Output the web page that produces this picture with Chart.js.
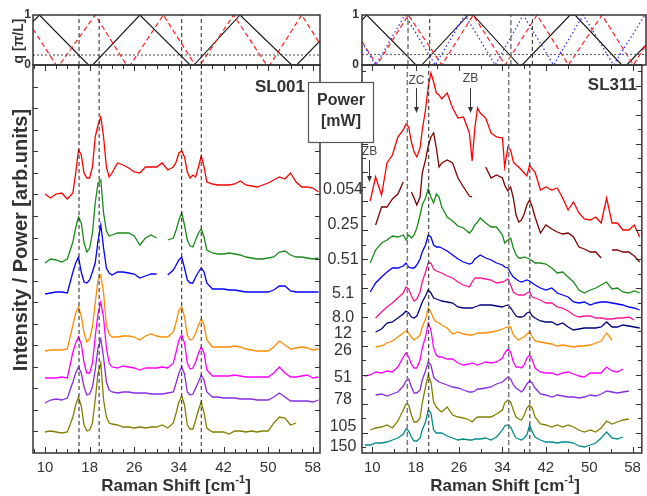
<!DOCTYPE html>
<html><head><meta charset="utf-8">
<script src="https://cdn.jsdelivr.net/npm/chart.js"></script>
<style>
html,body{margin:0;padding:0;background:#fff;}
#wrap{position:relative;width:647px;height:496px;overflow:hidden;background:#fff;}
canvas{position:absolute;left:0;top:0;}
</style></head><body>
<div id="wrap">
<canvas id="cLT" width="647" height="496"></canvas>
<canvas id="cLM" width="647" height="496"></canvas>
<canvas id="cRT" width="647" height="496"></canvas>
<canvas id="cRM" width="647" height="496"></canvas>
</div>
<script>
// ---------------- DATA ----------------
// Raman shift grid (cm^-1), left panel SL001
const X_L = [8,9,10,11,12,13,14,15,15.5,16,16.5,17,17.5,18,18.5,19,19.5,20,20.5,21,21.5,22,23,24,25,26,27,28,29,30,31,32,33,33.5,34,34.5,35,35.5,36,36.5,37,37.5,38,38.5,39,40,41,42,43,44,45,46,47,48,49,50,51,52,53,54,55,56,57,58,59];
const L_RED = [null,null,259,255,259,260,254,260,280,303,298,280,275,275,286,316,328,336,316,286,276,280,290,288,285,281,280,286,286,286,290,283,286,291,300,302,296,281,275,278,276,286,297,286,271,269,268,268,268,269,272,268,267,266,268,270,273,276,274,280,271,266,266,265,261];
const L_GREEN = [null,null,190,194,193,191,194,211,225,236,230,210,201,205,220,250,270,273,240,222,217,218,220,220,220,217,208,215,218,215,null,213,215,223,233,240,228,213,207,206,213,220,224,216,203,200,199,199,200,199,198,196,195,194,194,195,196,201,202,198,196,196,195,194,195];
const L_BLUE = [null,null,159,160,161,161,160,181,190,196,181,171,170,173,181,190,212,228,205,185,180,178,181,181,180,179,175,177,179,179,null,178,183,188,193,196,185,173,170,170,176,181,185,181,170,164,164,164,163,163,162,161,161,161,161,161,163,167,167,162,161,161,161,161,161];
const L_ORANGE = [null,null,102,103,103,103,104,128,140,146,137,120,111,114,126,150,173,178,160,128,119,116,116,117,117,116,113,117,119,117,116,116,121,131,143,146,136,118,113,114,120,128,134,128,113,106,106,106,106,107,106,104,103,102,102,102,106,112,108,104,105,106,105,103,104];
const L_MAGENTA = [null,null,75,75,75,76,75,101,110,116,109,90,80,80,90,116,140,151,135,105,90,86,85,87,86,85,83,85,85,85,86,85,90,101,113,118,110,90,84,85,91,100,106,100,83,77,77,77,77,78,77,76,76,76,76,76,80,86,80,76,76,77,78,75,76];
const L_PURPLE = [null,null,50,53,54,53,55,71,80,86,80,66,58,59,66,83,105,114,95,71,63,61,60,61,61,60,60,60,59,59,59,60,61,70,80,86,79,61,58,59,65,71,78,73,61,56,56,55,55,55,54,54,54,53,53,53,56,60,56,52,52,52,52,51,53];
const L_OLIVE = [null,null,21,22,21,20,21,36,48,56,47,28,22,23,30,53,80,90,53,36,30,29,28,26,26,25,26,25,26,26,28,25,30,40,51,57,48,28,24,24,33,43,51,40,25,21,21,21,19,22,22,21,22,21,22,22,30,36,35,28,30,null,null,null,null];

// Raman shift grid (cm^-1), right panel SL311
const X_R = [8.6,9.6,10.6,11.7,12.7,13.7,14.7,15.7,16.2,16.7,17.2,17.7,18.2,18.8,19.2,19.8,20.3,20.8,21.3,21.8,22.3,22.8,23.8,24.8,25.8,26.8,27.9,28.4,28.9,29.4,29.9,30.9,31.9,32.9,34.0,34.4,35.0,35.5,36.0,36.5,37.0,37.5,38.0,38.5,39.0,39.5,40.0,41.0,42.0,43.1,44.1,45.1,46.1,47.1,48.1,49.1,50.2,51.2,52.2,53.2,54.2,55.2,56.2,57.3,58.3,59.3];
const R_P0054 = [null,252,276,258,290,298,316,323,329,326,311,301,296,305,323,343,366,380,371,360,358,354,360,345,335,336,320,292,325,345,340,335,320,316,315,286,306,303,291,288,286,283,280,277,288,284,281,263,266,263,265,255,243,251,240,234,233,236,230,255,230,230,223,223,228,216];
const R_P025 = [null,null,228,246,246,254,259,271,null,null,261,255,248,256,280,293,307,316,320,305,286,290,293,290,275,266,257,256,null,null,null,286,275,278,275,268,262,266,255,238,231,233,239,248,253,246,236,220,228,224,221,219,220,216,206,204,201,201,195,null,203,203,201,201,197,191];
const R_P051 = [null,190,203,210,213,217,216,218,213,218,215,218,225,238,248,255,264,256,250,259,256,246,236,232,227,225,220,223,228,231,235,230,226,226,218,210,213,215,205,198,195,195,196,195,194,192,190,190,189,185,180,181,176,171,163,160,163,165,168,171,164,165,161,160,162,160];
const R_P51 = [null,161,170,176,181,185,185,187,190,186,185,185,188,194,201,208,218,216,208,206,206,205,202,198,194,191,189,190,194,196,198,195,193,190,188,186,185,180,176,174,172,171,172,173,172,170,168,165,163,165,160,158,156,151,150,151,148,150,151,151,150,149,148,146,145,143];
const R_P80 = [null,null,135,141,146,150,155,160,166,164,157,152,154,161,171,181,190,190,184,182,181,180,177,175,171,168,166,171,175,175,175,174,173,170,171,172,174,168,161,159,158,158,158,160,161,156,155,153,150,150,146,145,142,138,136,137,137,135,135,134,134,135,135,136,133,null];
const R_P12 = [null,null,121,124,130,131,135,139,142,140,136,135,137,145,151,157,163,160,155,154,153,152,151,150,146,145,145,145,146,147,148,148,148,147,146,147,148,145,141,137,136,136,137,140,141,137,135,132,131,131,128,130,126,123,124,125,125,125,126,131,126,126,128,127,126,125];
const R_P26 = [null,null,106,107,110,112,116,120,122,120,116,113,115,118,126,134,145,141,134,131,130,128,125,119,121,119,118,118,119,120,120,120,121,122,124,125,126,126,118,115,113,115,116,119,121,116,112,111,110,109,107,108,107,106,107,107,108,110,112,120,113,null,null,null,null,null];
const R_P51b = [77,78,81,80,82,81,86,96,100,96,89,85,85,93,105,116,130,123,105,98,96,96,94,94,90,88,89,90,89,88,89,91,90,91,95,100,104,101,91,86,86,85,88,95,98,93,85,81,80,80,78,80,81,79,77,76,80,80,80,86,82,81,84,null,null,null];
const R_P78 = [null,null,58,59,57,59,61,67,72,74,66,60,60,63,73,82,91,88,76,73,71,70,68,66,65,63,61,61,62,64,64,65,66,69,71,73,76,74,68,65,63,61,64,69,72,70,65,59,58,56,58,57,56,56,55,56,58,57,59,62,61,60,61,62,null,null];
const R_P105 = [null,23,25,26,28,25,32,43,49,48,38,31,31,35,50,66,78,71,51,46,43,41,46,38,36,35,33,31,34,36,36,36,36,39,43,50,53,51,43,36,34,33,38,45,48,45,36,29,28,26,28,26,28,26,23,21,23,21,25,32,29,31,33,34,null,null];
const R_P150 = [8,8,10,10,11,13,15,19,24,22,16,12,12,15,23,31,43,40,23,20,20,20,17,15,13,14,13,13,14,14,14,15,13,16,23,27,28,26,20,15,14,13,15,18,28,21,16,13,11,11,10,11,11,10,7,6,8,10,15,21,15,14,16,null,null,null];

// Power labels (mW) and the intensity level each label sits at
const POWER_LABELS = ['0.054','0.25','0.51','5.1','8.0','12','26','51','78','105','150'];
const LABEL_LEVELS = [263,228,193,159,135,119,102,75,53,26,6];

// Folded dispersion q [pi/L] vertices
const LQ_BLACK_X = [7.85,9.0,17.8,18.55,27.0,36.0,36.7,44.95,54.2,55.1,59.28];
const LQ_BLACK_Y = [0.87,1,0,0,1,0,0,1,0,0,0.48];
const LQ_RED_X = [7.85,12.0,12.6,19.0,24.6,25.3,31.2,36.9,37.8,43.8,49.7,50.3,56.0,59.28];
const LQ_RED_Y = [0.72,0,0,1,0,0,1,0,0,1,0,0,1,0.42];
const RQ_BLACK_X = [8.09,8.95,17.9,18.95,27.4,28.3,36.6,37.2,45.9,46.8,55.3,56.2,59.7];
const RQ_BLACK_Y = [0.9,1,0,0,1,1,0,0,1,1,0,0,0.4];
const RQ_RED_X = [8.09,10.8,16.5,22.6,28.3,34.1,39.9,45.6,51.7,57.4,59.7];
const RQ_RED_Y = [0.47,0,1,0,1,0,1,0,1,0,0.4];
const RQ_BLUE_X = [8.09,10.6,15.9,21.4,26.8,32.3,37.4,42.9,48.3,53.8,59.5,59.7];
const RQ_BLUE_Y = [0.45,0,1,0,1,0,1,0,1,0,1,0.96];
const L_QLINE = 0.2, R_QLINE = 0.21;

// Phonon lines marked by dashed verticals
const L_DASH = [16.1,19.7,34.5,38.0];
const R_DASH = [16.45,20.4,35.15,39.05];

// Tick labels
const X_TICK_LABELS = [10,18,26,34,42,50,58];

// ---------------- STYLE ----------------
const FONT = '"Liberation Sans", Arial, Helvetica, sans-serif';
Chart.defaults.font.family = FONT;
Chart.defaults.color = '#333';
const L_COLORS = ['#ff0000','#1a8a1a','#0000ff','#ff8c00','#ff00ff','#8a2be2','#808000'];
const R_COLORS = ['#ff0000','#800000','#1a8a1a','#0000ff','#ff1493','#000080','#ff8c00','#ff00ff','#8a2be2','#808000','#008b8b'];
const L_SERIES = [L_RED,L_GREEN,L_BLUE,L_ORANGE,L_MAGENTA,L_PURPLE,L_OLIVE];
const R_SERIES = [R_P0054,R_P025,R_P051,R_P51,R_P80,R_P12,R_P26,R_P51b,R_P78,R_P105,R_P150];
const YMAX = 388;
const L_XMIN = 7.85, L_XMAX = 59.28, R_XMIN = 8.09, R_XMAX = 59.7;

function txt(ctx, s, x, y, font, align, base, color, rot) {
  ctx.save(); ctx.font = font; ctx.fillStyle = color || '#333';
  ctx.textAlign = align || 'center'; ctx.textBaseline = base || 'middle';
  ctx.translate(x, y); if (rot) ctx.rotate(rot); ctx.fillText(s, 0, 0); ctx.restore();
}
function ramanTitle(ctx, cx, base) {
  const f1 = 'bold 17px ' + FONT, f2 = 'bold 11px ' + FONT;
  ctx.save(); ctx.fillStyle = '#333'; ctx.textBaseline = 'alphabetic'; ctx.textAlign = 'left';
  ctx.font = f1; const w1 = ctx.measureText('Raman Shift [cm').width, w3 = ctx.measureText(']').width;
  ctx.font = f2; const w2 = ctx.measureText('-1').width;
  const x0 = cx - (w1 + w2 + w3) / 2;
  ctx.font = f1; ctx.fillText('Raman Shift [cm', x0, base);
  ctx.font = f2; ctx.fillText('-1', x0 + w1, base - 8);
  ctx.font = f1; ctx.fillText(']', x0 + w1 + w2, base);
  ctx.restore();
}
function makeDecor(o) {
  return {
    id: 'decor',
    afterDatasetsDraw(chart) {
      const ctx = chart.ctx, a = chart.chartArea, x = chart.scales.x, y = chart.scales.y;
      ctx.save(); ctx.strokeStyle = '#333'; ctx.lineWidth = 1; ctx.beginPath();
      if (o.xTicks) {
        x.ticks.forEach(t => {
          const px = Math.round(x.getPixelForValue(t.value)) + 0.5;
          const len = X_TICK_LABELS.includes(t.value) ? 6 : 4;
          ctx.moveTo(px, a.bottom); ctx.lineTo(px, a.bottom - len);
          ctx.moveTo(px, a.top); ctx.lineTo(px, a.top + len);
        });
      }
      if (o.yTicks) {
        o.yTicks.forEach((v, i) => {
          const py = Math.round(y.getPixelForValue(v)) + 0.5;
          const len = o.yMajorEvery ? (i % o.yMajorEvery === o.yMajorOffset ? 6 : 4) : 5;
          ctx.moveTo(a.left, py); ctx.lineTo(a.left + len, py);
          ctx.moveTo(a.right, py); ctx.lineTo(a.right - len, py);
        });
      }
      ctx.stroke();
      ctx.lineWidth = 1.5; ctx.strokeStyle = '#333';
      ctx.strokeRect(a.left, a.top, a.right - a.left, a.bottom - a.top);
      ctx.restore();
    },
    afterDraw(chart) { if (o.draw) o.draw(chart); }
  };
}
function pts(X, Y) { return X.map((x, i) => ({x: x, y: Y[i]})); }
function lineDs(data, color, width, dash, order) {
  return {data: data, borderColor: color, borderWidth: width, borderDash: dash || [], pointRadius: 0,
    fill: false, tension: 0, spanGaps: false, order: order || 0};
}
function dashDs(vals, ymax, styles) {
  return vals.map((v, i) => lineDs([{x: v, y: 0}, {x: v, y: ymax}], styles[i].c, styles[i].w, styles[i].d, -1));
}
const L_DSTYLE = L_DASH.map(() => ({c: '#222', w: 1, d: [4, 3]}));
const R_DSTYLE = [{c:'#777',w:1.5,d:[5,3]},{c:'#222',w:1,d:[4,3]},{c:'#777',w:1.5,d:[5,3]},{c:'#222',w:1,d:[4,3]}];

function baseOpts(pad, xmin, xmax, ymax, xAxis) {
  const xs = {type: 'linear', min: xmin, max: xmax, display: !!xAxis,
    grid: {display: false, drawTicks: false}, border: {display: false}};
  if (xAxis) {
    xs.afterBuildTicks = s => { s.ticks = xAxis.ticks.map(v => ({value: v})); };
    xs.afterFit = s => { s.height = 43; };
    xs.ticks = {autoSkip: false, maxRotation: 0, minRotation: 0, padding: 6,
      font: {size: 15, family: FONT}, color: '#333',
      callback: v => X_TICK_LABELS.includes(v) ? String(v) : ''};
  }
  return {
    responsive: false, animation: false, devicePixelRatio: 1,
    layout: {padding: pad},
    plugins: {legend: {display: false}, tooltip: {enabled: false}},
    scales: {x: xs, y: {type: 'linear', min: 0, max: ymax, display: false}}
  };
}

// tick lists (axis decoration)
const L_XT = []; for (let v = 8; v <= 58; v += 2) L_XT.push(v);
const R_XT = []; for (let v = 10; v <= 58; v += 4) R_XT.push(v);
const L_YT = []; for (let k = 1; k <= 17; k++) L_YT.push(k * 21.55);
const R_YT = []; for (let k = 0; k <= 26; k++) R_YT.push(6 + k * 14.45);

// ---------------- LEFT TOP ----------------
new Chart(document.getElementById('cLT'), {
  type: 'line',
  data: {datasets: [
    ...dashDs(L_DASH, 1, L_DSTYLE),
    lineDs([{x: L_XMIN, y: L_QLINE}, {x: L_XMAX, y: L_QLINE}], '#444', 1, [2, 2]),
    lineDs(pts(LQ_RED_X, LQ_RED_Y), '#ff2020', 1.2, [5, 3]),
    lineDs(pts(LQ_BLACK_X, LQ_BLACK_Y), '#111', 1.1)
  ]},
  options: baseOpts({left: 33, top: 15, right: 327, bottom: 431}, L_XMIN, L_XMAX, 1, null),
  plugins: [makeDecor({draw(chart) {
    const ctx = chart.ctx, y = chart.scales.y;
    txt(ctx, '1', 31, y.getPixelForValue(1), 'bold 12px ' + FONT, 'right', 'middle', '#333');
    txt(ctx, '0', 31, y.getPixelForValue(0), 'bold 12px ' + FONT, 'right', 'middle', '#333');
    txt(ctx, 'q [\u03c0/L]', 19, 41, 'bold 14px ' + FONT, 'center', 'middle', '#333', -Math.PI / 2);
  }})]
});

// ---------------- LEFT MAIN ----------------
new Chart(document.getElementById('cLM'), {
  type: 'line',
  data: {datasets: [
    ...dashDs(L_DASH, YMAX, L_DSTYLE),
    ...L_SERIES.map((s, i) => lineDs(pts(X_L, s), L_COLORS[i], 1.3))
  ]},
  options: baseOpts({left: 33, top: 65, right: 327, bottom: 0}, L_XMIN, L_XMAX, YMAX, {ticks: L_XT}),
  plugins: [makeDecor({xTicks: true, yTicks: L_YT, draw(chart) {
    const ctx = chart.ctx;
    txt(ctx, 'SL001', 305, 87, 'bold 17px ' + FONT, 'right', 'middle', '#333');
    txt(ctx, 'Intensity / Power [arb.units]', 21, 240, 'bold 20px ' + FONT, 'center', 'middle', '#333', -Math.PI / 2);
    ramanTitle(ctx, 176, 491);
  }})]
});

// ---------------- RIGHT TOP ----------------
new Chart(document.getElementById('cRT'), {
  type: 'line',
  data: {datasets: [
    ...dashDs(R_DASH, 1, R_DSTYLE),
    lineDs([{x: R_XMIN, y: R_QLINE}, {x: R_XMAX, y: R_QLINE}], '#666', 1.2, [2, 2]),
    lineDs(pts(RQ_BLUE_X, RQ_BLUE_Y), '#3030ff', 1.3, [1.5, 2.5]),
    lineDs(pts(RQ_RED_X, RQ_RED_Y), '#ff2020', 1.2, [5, 3]),
    lineDs(pts(RQ_BLACK_X, RQ_BLACK_Y), '#111', 1.1)
  ]},
  options: baseOpts({left: 362, top: 15, right: 1, bottom: 431}, R_XMIN, R_XMAX, 1, null),
  plugins: [makeDecor({draw(chart) {
    const ctx = chart.ctx, y = chart.scales.y;
    txt(ctx, '1', 359, y.getPixelForValue(1), 'bold 12px ' + FONT, 'right', 'middle', '#333');
    txt(ctx, '0', 359, y.getPixelForValue(0), 'bold 12px ' + FONT, 'right', 'middle', '#333');
  }})]
});

// ---------------- RIGHT MAIN ----------------
const ANNOT = [
  {t: 'ZB', x: 9.45, yt: 301, y0: 293, y1: 271},
  {t: 'ZC', x: 18.1, yt: 372, y0: 365, y1: 340},
  {t: 'ZB', x: 28.1, yt: 374, y0: 365, y1: 340}
];
new Chart(document.getElementById('cRM'), {
  type: 'line',
  data: {datasets: [
    ...dashDs(R_DASH, YMAX, R_DSTYLE),
    ...R_SERIES.map((s, i) => lineDs(pts(X_R, s), R_COLORS[i], 1.3))
  ]},
  options: baseOpts({left: 362, top: 65, right: 1, bottom: 0}, R_XMIN, R_XMAX, YMAX, {ticks: R_XT}),
  plugins: [makeDecor({xTicks: true, yTicks: R_YT, yMajorEvery: 2, yMajorOffset: 1, draw(chart) {
    const ctx = chart.ctx, a = chart.chartArea, x = chart.scales.x, y = chart.scales.y;
    txt(ctx, 'SL311', 637, 85, 'bold 17px ' + FONT, 'right', 'middle', '#333');
    ramanTitle(ctx, 505, 491);
    // annotations
    ctx.save(); ctx.strokeStyle = '#333'; ctx.fillStyle = '#333'; ctx.lineWidth = 1;
    ANNOT.forEach(an => {
      const px = Math.round(x.getPixelForValue(an.x)) + 0.5;
      const p0 = y.getPixelForValue(an.y0), p1 = y.getPixelForValue(an.y1);
      ctx.beginPath(); ctx.moveTo(px, p0); ctx.lineTo(px, p1 - 5); ctx.stroke();
      ctx.beginPath(); ctx.moveTo(px - 2.5, p1 - 6); ctx.lineTo(px + 2.5, p1 - 6); ctx.lineTo(px, p1); ctx.closePath(); ctx.fill();
      txt(ctx, an.t, px, y.getPixelForValue(an.yt), '12px ' + FONT, 'center', 'middle', '#444');
    });
    ctx.restore();
    // Power box
    ctx.save(); ctx.fillStyle = '#fff'; ctx.strokeStyle = '#555'; ctx.lineWidth = 1.2;
    ctx.fillRect(308, 82, 65, 60); ctx.strokeRect(308.5, 82.5, 65, 60); ctx.restore();
    txt(ctx, 'Power', 341, 101, 'bold 16px ' + FONT, 'center', 'middle', '#333');
    txt(ctx, '[mW]', 341, 122, 'bold 16px ' + FONT, 'center', 'middle', '#333');
    POWER_LABELS.forEach((s, i) => txt(ctx, s, a.left - 19, y.getPixelForValue(LABEL_LEVELS[i]), '16px ' + FONT, 'center', 'middle', '#333'));
  }})]
});
</script>
</body></html>
